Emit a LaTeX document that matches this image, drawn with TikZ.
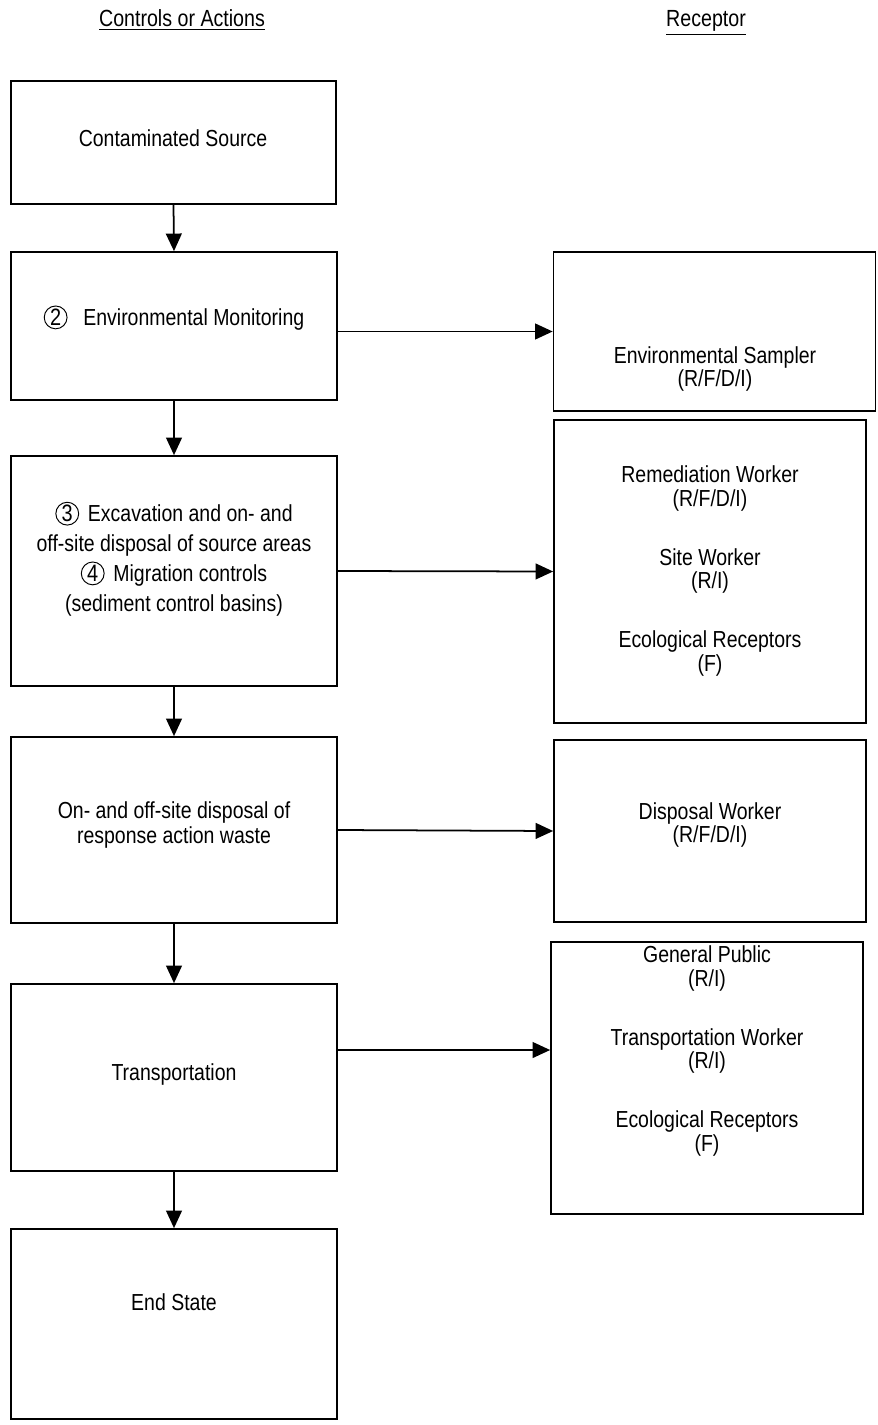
\documentclass[tikz,border=0pt]{standalone}
\usepackage{fontspec}
\setmainfont{Liberation Sans}[FakeStretch=0.84]
\usetikzlibrary{arrows.meta}
\newcommand{\cnum}[1]{\tikz[baseline=(cn.base)]\node[draw, circle, line width=0.55pt, inner sep=0pt, minimum size=13pt, font=\fontsize{13.5}{13.5}\selectfont] (cn) {#1};}
\begin{document}
\begin{tikzpicture}[x=0.02cm,y=-0.02cm,
  box/.style={draw, line width=1pt, inner sep=0pt},
  txt/.style={align=center, inner sep=0pt, font=\fontsize{13.2}{13.6}\selectfont},
  arr/.style={line width=1pt, -{Triangle[length=10pt,width=9pt]}},
  head/.style={font=\fontsize{13.3}{14}\selectfont, inner sep=0pt, anchor=base}]
\useasboundingbox (0,0) rectangle (877,1425);
% headings
\node[head] (h1) at (182,27) {\underline{Controls or Actions}};
\node[head] (h2) at (706,27) {\underline{Receptor}};
% left boxes
\node[box, minimum width=6.5cm, minimum height=2.46cm] (b1) at (173.5,142.5) {};
\node[box, minimum width=6.52cm, minimum height=2.96cm] (b2) at (174,326) {};
\node[box, minimum width=6.52cm, minimum height=4.6cm] (b3) at (174,571) {};
\node[box, minimum width=6.52cm, minimum height=3.72cm] (b4) at (174,830) {};
\node[box, minimum width=6.52cm, minimum height=3.74cm] (b5) at (174,1077.5) {};
\node[box, minimum width=6.52cm, minimum height=3.8cm] (b6) at (174,1324) {};
% right boxes
\node[box, minimum width=6.44cm, minimum height=3.18cm] (rA) at (714.5,331.5) {};
\node[box, minimum width=6.24cm, minimum height=6.06cm] (rB) at (710,571.5) {};
\node[box, minimum width=6.24cm, minimum height=3.64cm] (rC) at (710,831) {};
\node[box, minimum width=6.24cm, minimum height=5.44cm] (rD) at (707,1078) {};
% texts left
\node[txt] (t1) at (173,138) {Contaminated Source};
\node[txt] (t2) at (174,318) {\cnum{2}\hspace{9pt}Environmental Monitoring};
\node[txt, font=\fontsize{13.2}{17}\selectfont] (t3) at (174,559) {\cnum{3}\hspace{5pt}Excavation and on- and\\off-site disposal of source areas\\\cnum{4}\hspace{5pt}Migration controls\\(sediment control basins)};
\node[txt, font=\fontsize{13.2}{14.2}\selectfont] (t4) at (174,825) {On- and off-site disposal of\\response action waste};
\node[txt] (t5) at (174,1074) {Transportation};
\node[txt] (t6) at (174,1302) {End State};
% texts right
\node[txt] (tA) at (715,369) {Environmental Sampler\\(R/F/D/I)};
\node[txt] (tB) at (710,571) {Remediation Worker\\(R/F/D/I)\\[20pt]Site Worker\\(R/I)\\[20pt]Ecological Receptors\\(F)};
\node[txt] (tC) at (710,825) {Disposal Worker\\(R/F/D/I)};
\node[txt] (tD) at (707,1051) {General Public\\(R/I)\\[20pt]Transportation Worker\\(R/I)\\[20pt]Ecological Receptors\\(F)};
% vertical arrows
\draw[arr] (b1.south) -- (b2.north);
\draw[arr] (b2.south) -- (b3.north);
\draw[arr] (b3.south) -- (b4.north);
\draw[arr] (b4.south) -- (b5.north);
\draw[arr] (b5.south) -- (b6.north);
% horizontal arrows
\draw[arr] (b2.east |- rA.west) -- (rA.west);
\draw[arr] (b3.east) -- (rB.west);
\draw[arr] (b4.east) -- (rC.west);
\coordinate (yD) at (0,1050);
\draw[arr] (b5.east |- yD) -- (rD.west |- yD);
\end{tikzpicture}
\end{document}
